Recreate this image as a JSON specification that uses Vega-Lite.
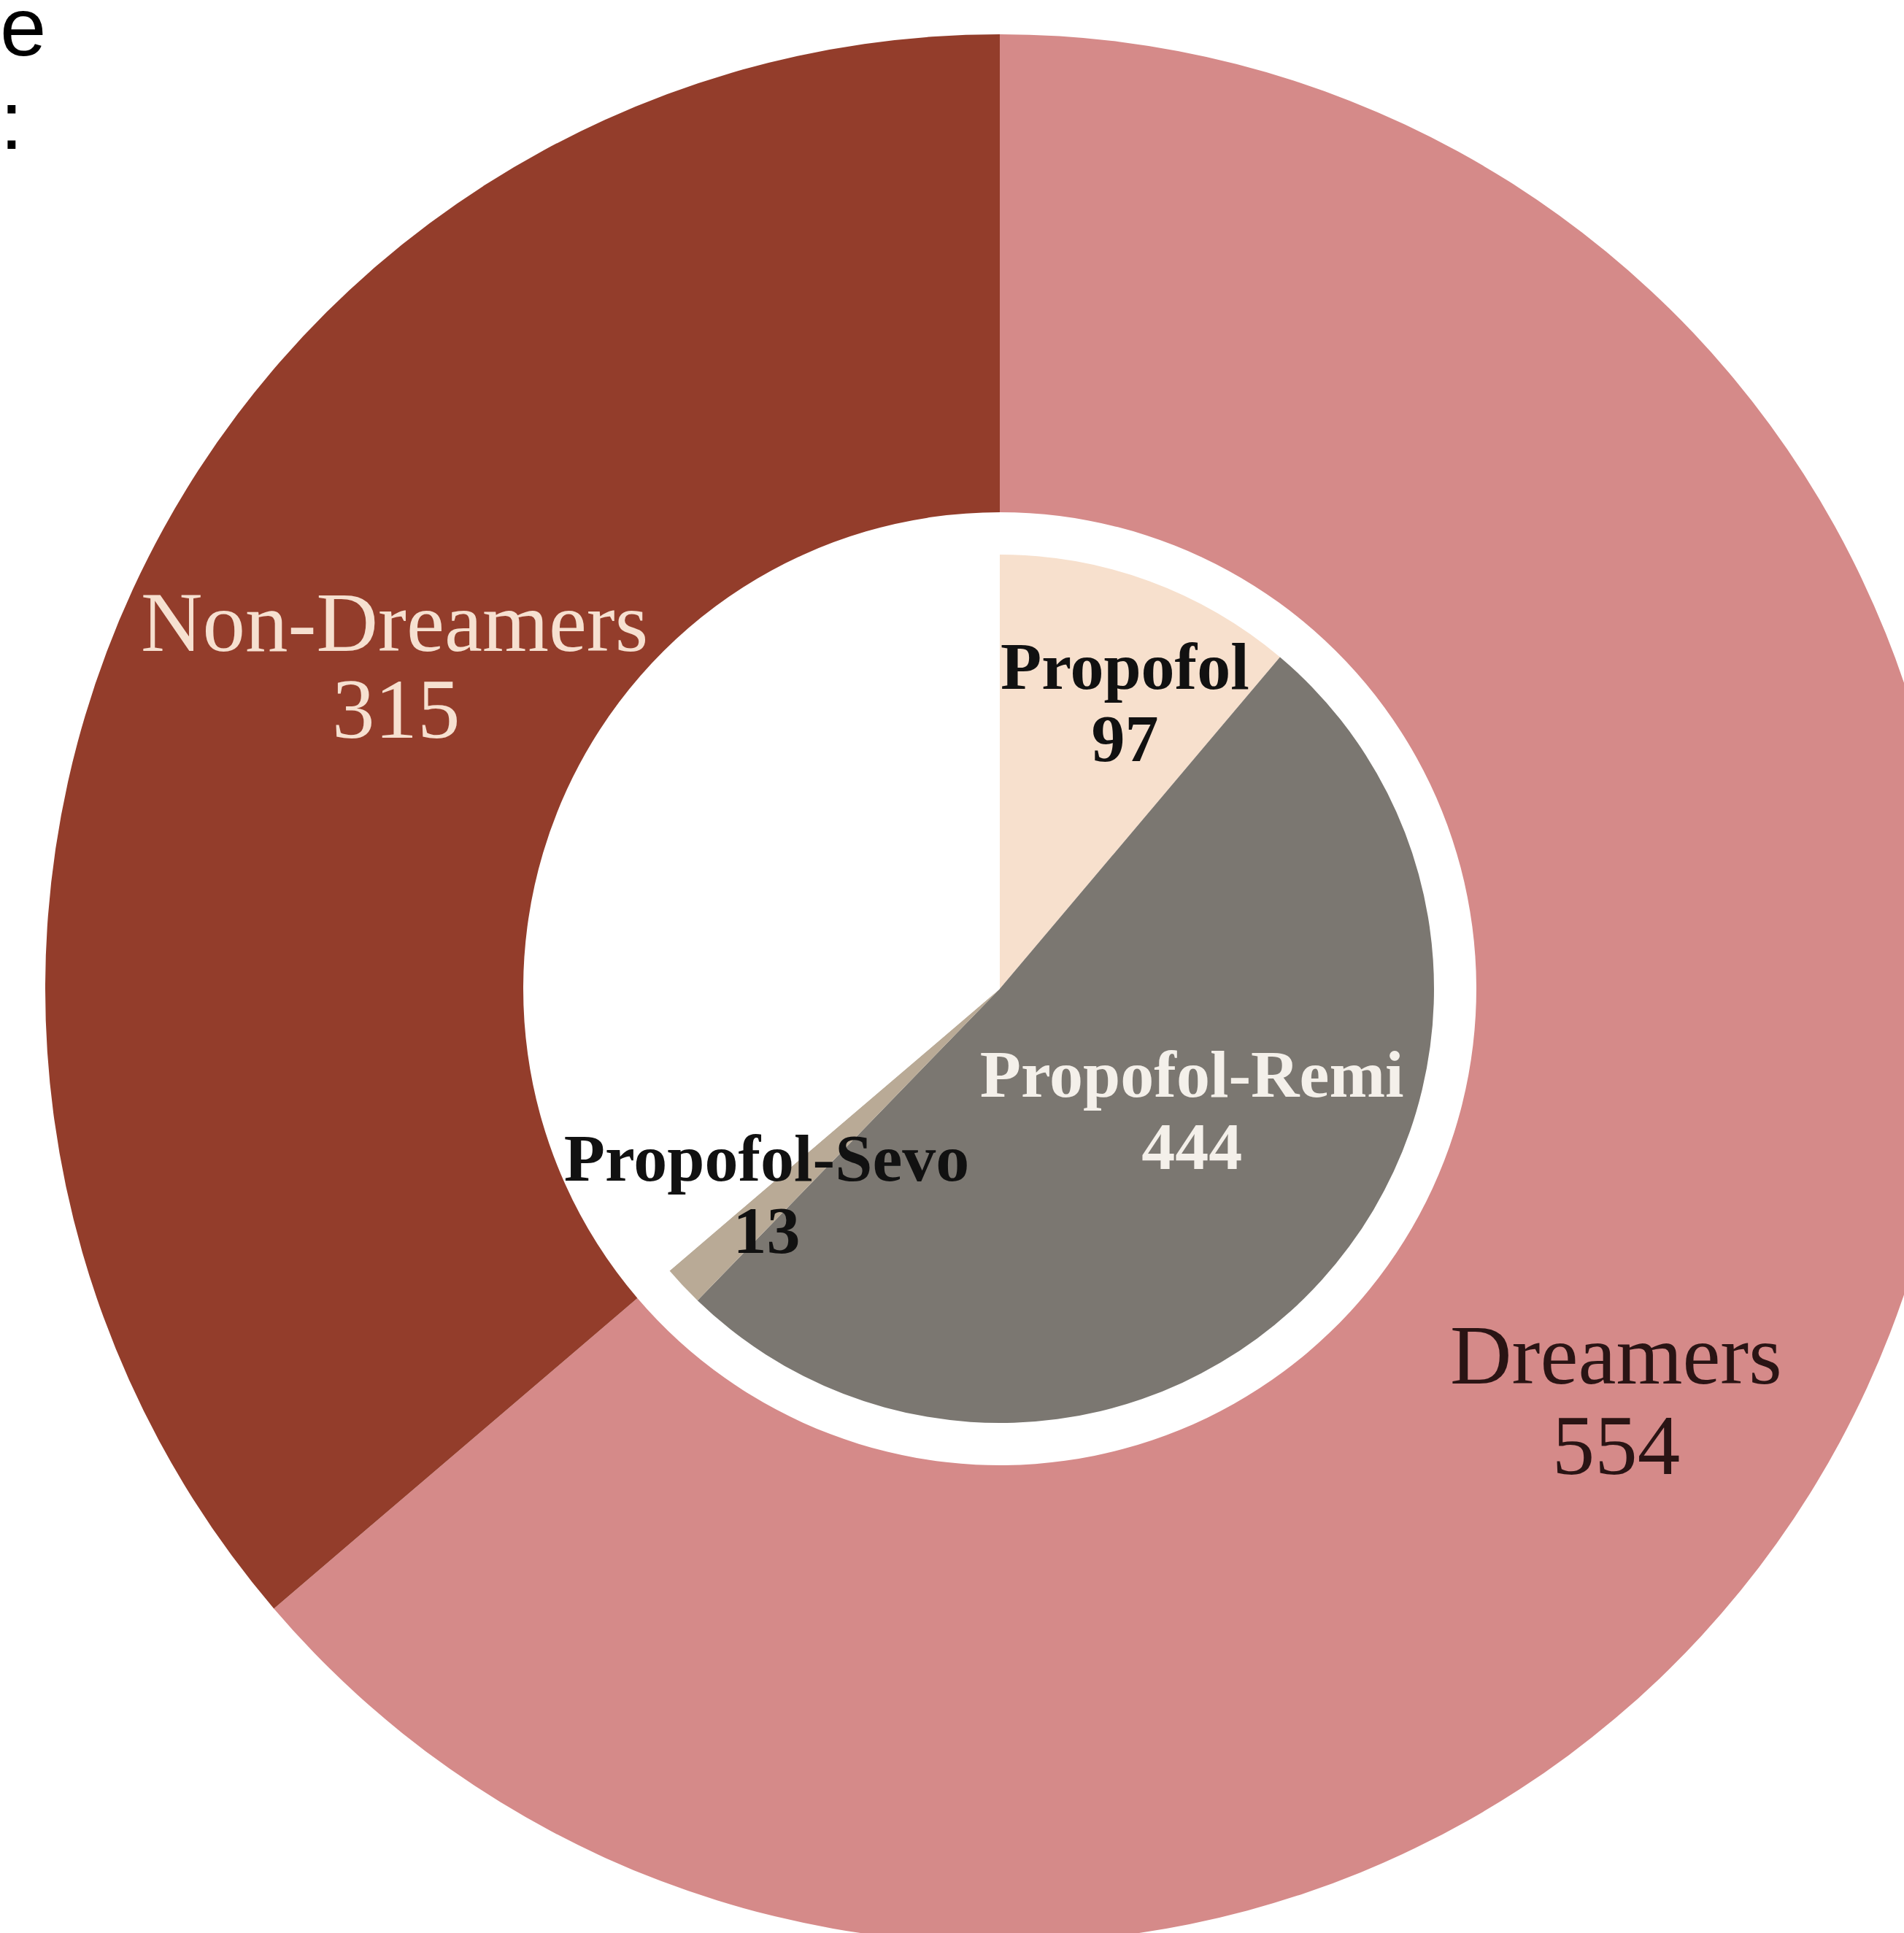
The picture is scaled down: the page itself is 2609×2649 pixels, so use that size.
{
  "$schema": "https://vega.github.io/schema/vega-lite/v6.json",
  "autosize": {"type": "none"},
  "width": 2478,
  "height": 2588,
  "padding": {"left": 131, "top": 61, "right": 0, "bottom": 0},
  "background": "white",
  "config": {"view": {"stroke": null}},
  "title": {
    "text": ["e", ":"],
    "font": "Liberation Sans",
    "fontSize": 114,
    "fontWeight": "normal",
    "color": "#000000",
    "anchor": "start",
    "frame": "group",
    "orient": "top",
    "lineHeight": 128,
    "baseline": "alphabetic",
    "dx": -131,
    "offset": -271
  },
  "datasets": {
    "outer": [
      {"group": "Dreamers", "count": 554, "order": 1},
      {"group": "Non-Dreamers", "count": 315, "order": 2}
    ],
    "inner": [
      {"drug": "Propofol", "count": 97, "order": 1},
      {"drug": "Propofol-Remi", "count": 444, "order": 2},
      {"drug": "Propofol-Sevo", "count": 13, "order": 3},
      {"drug": "Non-Dreamers", "count": 315, "order": 4}
    ]
  },
  "layer": [
    {
      "data": {"name": "outer"},
      "mark": {"type": "arc", "innerRadius": 653, "outerRadius": 1308},
      "encoding": {
        "theta": {"field": "count", "type": "quantitative", "stack": true},
        "order": {"field": "order", "type": "quantitative"},
        "color": {"field": "group", "type": "nominal", "legend": null,
          "scale": {"domain": ["Dreamers", "Non-Dreamers"], "range": ["#D58A89", "#933D2B"]}}
      }
    },
    {
      "data": {"name": "inner"},
      "mark": {"type": "arc", "innerRadius": 0, "outerRadius": 595},
      "encoding": {
        "theta": {"field": "count", "type": "quantitative", "stack": true},
        "order": {"field": "order", "type": "quantitative"},
        "color": {"field": "drug", "type": "nominal", "legend": null,
          "scale": {"domain": ["Propofol", "Propofol-Remi", "Propofol-Sevo", "Non-Dreamers"], "range": ["#F7E0CD", "#7B7771", "#B9AA96", "#FFFFFF"]}}
      }
    },
    {
      "data": {"name": "outer"},
      "mark": {"type": "text", "radius": 922, "dx": 8, "dy": -77, "align": "center", "baseline": "alphabetic", "font": "Liberation Serif", "fontSize": 117, "fill": "#F6E0D0"},
      "encoding": {
        "theta": {"field": "count", "type": "quantitative", "stack": true},
        "order": {"field": "order", "type": "quantitative"},
        "text": {"condition": {"test": "datum.group === 'Non-Dreamers'", "field": "group", "type": "nominal"}, "value": ""}
      }
    },
    {
      "data": {"name": "outer"},
      "mark": {"type": "text", "radius": 922, "dx": 10, "dy": 42, "align": "center", "baseline": "alphabetic", "font": "Liberation Serif", "fontSize": 117, "fill": "#F6E0D0"},
      "encoding": {
        "theta": {"field": "count", "type": "quantitative", "stack": true},
        "order": {"field": "order", "type": "quantitative"},
        "text": {"condition": {"test": "datum.group === 'Non-Dreamers'", "field": "count", "type": "quantitative"}, "value": ""}
      }
    },
    {
      "data": {"name": "outer"},
      "mark": {"type": "text", "radius": 1018, "dx": -80, "dy": 115, "align": "center", "baseline": "alphabetic", "font": "Liberation Serif", "fontSize": 117, "fill": "#2A1414"},
      "encoding": {
        "theta": {"field": "count", "type": "quantitative", "stack": true},
        "order": {"field": "order", "type": "quantitative"},
        "text": {"condition": {"test": "datum.group === 'Dreamers'", "field": "group", "type": "nominal"}, "value": ""}
      }
    },
    {
      "data": {"name": "outer"},
      "mark": {"type": "text", "radius": 1018, "dx": -80, "dy": 239, "align": "center", "baseline": "alphabetic", "font": "Liberation Serif", "fontSize": 117, "fill": "#2A1414"},
      "encoding": {
        "theta": {"field": "count", "type": "quantitative", "stack": true},
        "order": {"field": "order", "type": "quantitative"},
        "text": {"condition": {"test": "datum.group === 'Dreamers'", "field": "count", "type": "quantitative"}, "value": ""}
      }
    },
    {
      "data": {"name": "inner"},
      "mark": {"type": "text", "radius": 397, "dx": 35, "dy": -38, "align": "center", "baseline": "alphabetic", "font": "Liberation Serif", "fontWeight": "bold", "fontSize": 92, "fill": "#111111"},
      "encoding": {
        "theta": {"field": "count", "type": "quantitative", "stack": true},
        "order": {"field": "order", "type": "quantitative"},
        "text": {"condition": {"test": "datum.drug === 'Propofol'", "field": "drug", "type": "nominal"}, "value": ""}
      }
    },
    {
      "data": {"name": "inner"},
      "mark": {"type": "text", "radius": 397, "dx": 35, "dy": 61, "align": "center", "baseline": "alphabetic", "font": "Liberation Serif", "fontWeight": "bold", "fontSize": 92, "fill": "#111111"},
      "encoding": {
        "theta": {"field": "count", "type": "quantitative", "stack": true},
        "order": {"field": "order", "type": "quantitative"},
        "text": {"condition": {"test": "datum.drug === 'Propofol'", "field": "count", "type": "quantitative"}, "value": ""}
      }
    },
    {
      "data": {"name": "inner"},
      "mark": {"type": "text", "radius": 328, "dx": 20, "dy": -72, "align": "center", "baseline": "alphabetic", "font": "Liberation Serif", "fontWeight": "bold", "fontSize": 92, "fill": "#F4F0EA"},
      "encoding": {
        "theta": {"field": "count", "type": "quantitative", "stack": true},
        "order": {"field": "order", "type": "quantitative"},
        "text": {"condition": {"test": "datum.drug === 'Propofol-Remi'", "field": "drug", "type": "nominal"}, "value": ""}
      }
    },
    {
      "data": {"name": "inner"},
      "mark": {"type": "text", "radius": 328, "dx": 20, "dy": 27, "align": "center", "baseline": "alphabetic", "font": "Liberation Serif", "fontWeight": "bold", "fontSize": 92, "fill": "#F4F0EA"},
      "encoding": {
        "theta": {"field": "count", "type": "quantitative", "stack": true},
        "order": {"field": "order", "type": "quantitative"},
        "text": {"condition": {"test": "datum.drug === 'Propofol-Remi'", "field": "count", "type": "quantitative"}, "value": ""}
      }
    },
    {
      "data": {"name": "inner"},
      "mark": {"type": "text", "radius": 445, "dx": 5, "dy": -42, "align": "center", "baseline": "alphabetic", "font": "Liberation Serif", "fontWeight": "bold", "fontSize": 92, "fill": "#111111"},
      "encoding": {
        "theta": {"field": "count", "type": "quantitative", "stack": true},
        "order": {"field": "order", "type": "quantitative"},
        "text": {"condition": {"test": "datum.drug === 'Propofol-Sevo'", "field": "drug", "type": "nominal"}, "value": ""}
      }
    },
    {
      "data": {"name": "inner"},
      "mark": {"type": "text", "radius": 445, "dx": 5, "dy": 57, "align": "center", "baseline": "alphabetic", "font": "Liberation Serif", "fontWeight": "bold", "fontSize": 92, "fill": "#111111"},
      "encoding": {
        "theta": {"field": "count", "type": "quantitative", "stack": true},
        "order": {"field": "order", "type": "quantitative"},
        "text": {"condition": {"test": "datum.drug === 'Propofol-Sevo'", "field": "count", "type": "quantitative"}, "value": ""}
      }
    }
  ],
  "resolve": {"scale": {"color": "independent", "theta": "independent"}}
}
